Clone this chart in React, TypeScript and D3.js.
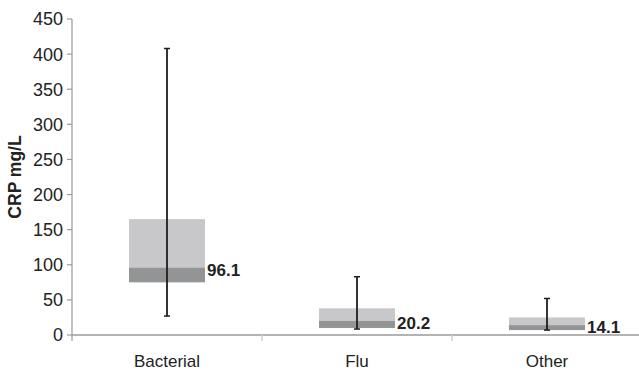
import React from "react";
import * as d3 from "d3";

const categories = ["Bacterial", "Flu", "Other"];
const q1 = [75, 10, 7];
const medians = [96.1, 20.2, 14.1];
const q3 = [165, 38, 25];
const lows = [27, 8.5, 7];
const highs = [408, 83, 52];
const yTicks = [0, 50, 100, 150, 200, 250, 300, 350, 400, 450];

const width = 639;
const height = 371;
const font = "'Liberation Sans', Arial, Helvetica, sans-serif";

const App = () => {
  const x = d3.scaleBand<string>().domain(categories).range([72, 642]).paddingInner(0).paddingOuter(0);
  const y = d3.scaleLinear().domain([0, 450]).range([335, 19]);
  const boxW = x.bandwidth() * 0.4;
  const axisColor = "#9a9a9a";

  return (
    <svg
      width={width}
      height={height}
      style={{ position: "absolute", left: 0, top: 0, background: "#fff" }}
      fontFamily={font}
    >
      {/* y axis */}
      <line x1={72} x2={72} y1={y(450)} y2={y(0) + 6} stroke={axisColor} strokeWidth={1.2} />
      {yTicks.map((t) => (
        <g key={t}>
          <line x1={67} x2={72} y1={y(t)} y2={y(t)} stroke={axisColor} strokeWidth={1.2} />
          <text x={63} y={y(t)} dy="0.36em" textAnchor="end" fontSize={18} fill="#222">
            {t}
          </text>
        </g>
      ))}
      <text
        transform={`translate(21,${y(225)}) rotate(-90)`}
        textAnchor="middle"
        fontSize={17.5}
        fontWeight="bold"
        fill="#222"
      >
        CRP mg/L
      </text>

      {/* x axis */}
      <line x1={72} x2={width} y1={y(0)} y2={y(0)} stroke={axisColor} strokeWidth={1.5} />
      {categories.slice(1).map((c) => (
        <line
          key={c}
          x1={x(c)!}
          x2={x(c)!}
          y1={y(0)}
          y2={y(0) + 6}
          stroke="#cfcfcf"
          strokeWidth={1.5}
        />
      ))}
      {categories.map((c) => (
        <text
          key={c}
          x={x(c)! + x.bandwidth() / 2}
          y={367}
          textAnchor="middle"
          fontSize={17}
          fill="#222"
        >
          {c}
        </text>
      ))}

      {/* boxes */}
      {categories.map((c, i) => {
        const cx = x(c)! + x.bandwidth() / 2;
        return (
          <g key={c}>
            <rect
              x={cx - boxW / 2}
              y={y(q3[i])}
              width={boxW}
              height={y(medians[i]) - y(q3[i])}
              fill="#c8c8ca"
            />
            <rect
              x={cx - boxW / 2}
              y={y(medians[i])}
              width={boxW}
              height={y(q1[i]) - y(medians[i])}
              fill="#939496"
            />
            <line x1={cx} x2={cx} y1={y(highs[i])} y2={y(lows[i])} stroke="#1e1e1e" strokeWidth={1.8} />
            <line x1={cx - 3} x2={cx + 3} y1={y(highs[i])} y2={y(highs[i])} stroke="#1e1e1e" strokeWidth={1.5} />
            <line x1={cx - 3} x2={cx + 3} y1={y(lows[i])} y2={y(lows[i])} stroke="#1e1e1e" strokeWidth={1.5} />
            <text
              x={cx + boxW / 2 + 2}
              y={y(medians[i]) + 8}
              fontSize={17}
              fontWeight="bold"
              fill="#222"
            >
              {medians[i].toFixed(1)}
            </text>
          </g>
        );
      })}
    </svg>
  );
};

export default App;
